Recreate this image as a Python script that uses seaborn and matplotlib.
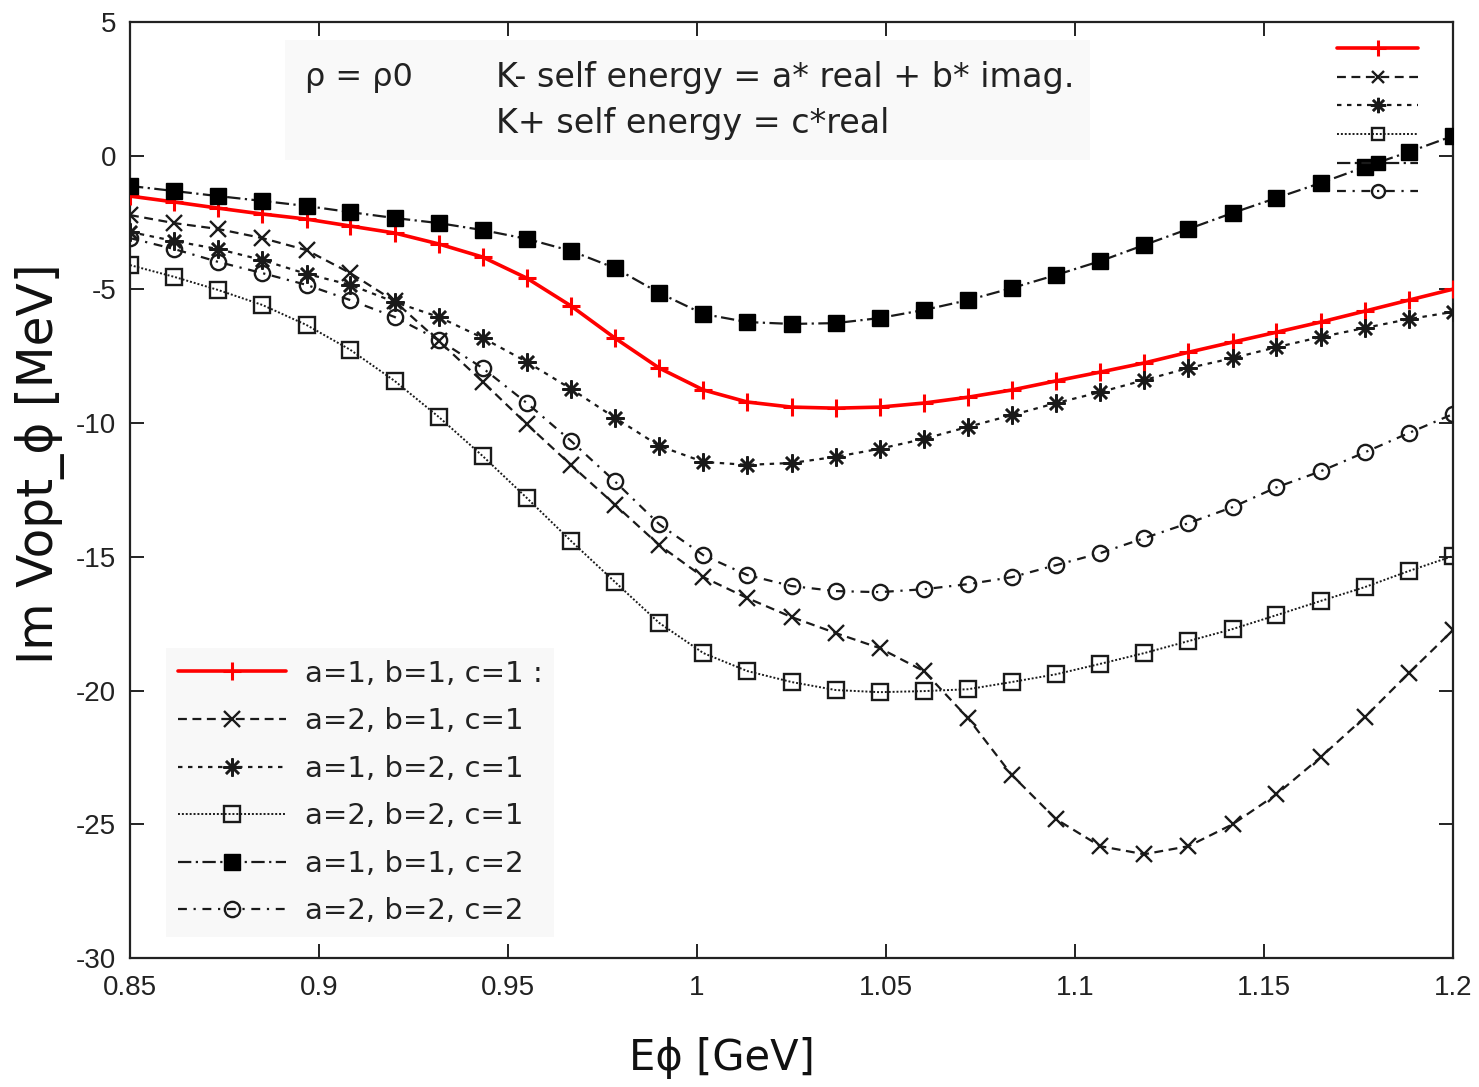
import matplotlib
matplotlib.use("Agg")
import matplotlib.pyplot as plt
from matplotlib.lines import Line2D
from matplotlib.patches import Rectangle
import seaborn as sns

# Kaon self-energy scaling study: imaginary part of the phi optical potential
energy = [0.8500, 0.8617, 0.8733, 0.8850, 0.8967, 0.9083, 0.9200, 0.9317,
          0.9433, 0.9550, 0.9667, 0.9783, 0.9900, 1.0017, 1.0133, 1.0250,
          1.0367, 1.0483, 1.0600, 1.0717, 1.0833, 1.0950, 1.1067, 1.1183,
          1.1300, 1.1417, 1.1533, 1.1650, 1.1767, 1.1883, 1.2000]

im_a1_b1_c1 = [-1.51, -1.73, -1.96, -2.18, -2.37, -2.63, -2.89, -3.30, -3.79, -4.58,
               -5.62, -6.82, -7.94, -8.76, -9.21, -9.40, -9.44, -9.40, -9.25, -9.03,
               -8.76, -8.42, -8.09, -7.75, -7.35, -6.97, -6.60, -6.22, -5.81, -5.40, -4.99]
im_a2_b1_c1 = [-2.22, -2.52, -2.74, -3.08, -3.53, -4.39, -5.44, -6.93, -8.45, -10.04,
               -11.57, -13.05, -14.56, -15.76, -16.54, -17.25, -17.85, -18.41, -19.27, -21.03,
               -23.16, -24.81, -25.82, -26.12, -25.82, -25.00, -23.88, -22.49, -20.99, -19.35, -17.74]
im_a1_b2_c1 = [-2.85, -3.19, -3.49, -3.90, -4.42, -4.83, -5.47, -6.03, -6.81, -7.71,
               -8.72, -9.80, -10.85, -11.45, -11.56, -11.49, -11.26, -10.96, -10.59, -10.14,
               -9.70, -9.25, -8.84, -8.39, -7.94, -7.57, -7.16, -6.78, -6.44, -6.11, -5.84]
im_a2_b2_c1 = [-4.09, -4.53, -5.02, -5.58, -6.33, -7.26, -8.42, -9.77, -11.23, -12.80,
               -14.41, -15.94, -17.47, -18.60, -19.27, -19.68, -19.98, -20.06, -20.02, -19.95,
               -19.68, -19.39, -19.00, -18.60, -18.15, -17.70, -17.18, -16.65, -16.13, -15.53, -14.97]
im_a1_b1_c2 = [-1.13, -1.32, -1.51, -1.69, -1.88, -2.11, -2.33, -2.52, -2.78, -3.11,
               -3.56, -4.20, -5.13, -5.92, -6.22, -6.29, -6.26, -6.07, -5.77, -5.40,
               -4.95, -4.46, -3.94, -3.34, -2.74, -2.14, -1.58, -1.02, -0.42, 0.14, 0.74]
im_a2_b2_c2 = [-3.08, -3.49, -3.97, -4.39, -4.83, -5.40, -6.03, -6.89, -7.94, -9.25,
               -10.67, -12.18, -13.78, -14.94, -15.68, -16.09, -16.28, -16.32, -16.21, -16.02,
               -15.76, -15.31, -14.86, -14.30, -13.74, -13.14, -12.40, -11.80, -11.09, -10.37, -9.66]

series_labels = ["a=1, b=1, c=1 :", "a=2, b=1, c=1", "a=1, b=2, c=1",
                 "a=2, b=2, c=1", "a=1, b=1, c=2", "a=2, b=2, c=2"]

x_ticks = [0.85, 0.9, 0.95, 1.0, 1.05, 1.1, 1.15, 1.2]
x_tick_labels = ["0.85", "0.9", "0.95", "1", "1.05", "1.1", "1.15", "1.2"]
y_ticks = [-30, -25, -20, -15, -10, -5, 0, 5]
y_tick_labels = ["-30", "-25", "-20", "-15", "-10", "-5", "0", "5"]

sns.set_theme(style="ticks")
plt.rcParams["font.family"] = ["DejaVu Sans"]

INK = "#1a1a1a"
line_styles = [
    dict(color="#ff0000", linewidth=2.6, linestyle="-", marker="+", markersize=13,
         markeredgewidth=2.2, markerfacecolor="#ff0000", markeredgecolor="#ff0000"),
    dict(color=INK, linewidth=1.6, linestyle=(0, (4, 2.5)), marker="x", markersize=11,
         markeredgewidth=1.7, markerfacecolor="none", markeredgecolor=INK),
    dict(color=INK, linewidth=1.6, linestyle=(0, (2, 2.5)), marker=(8, 2, 0), markersize=13,
         markeredgewidth=1.8, markerfacecolor="none", markeredgecolor=INK),
    dict(color=INK, linewidth=1.4, linestyle=(0, (1, 1)), marker="s", markersize=11,
         markeredgewidth=1.7, markerfacecolor="none", markeredgecolor=INK),
    dict(color=INK, linewidth=1.6, linestyle=(0, (6, 2, 1, 2)), marker="s", markersize=12,
         markeredgewidth=1.0, markerfacecolor="black", markeredgecolor="black"),
    dict(color=INK, linewidth=1.6, linestyle=(0, (4, 3, 1, 3)), marker="o", markersize=11,
         markeredgewidth=1.7, markerfacecolor="none", markeredgecolor=INK),
]
series_values = [im_a1_b1_c1, im_a2_b1_c1, im_a1_b2_c1, im_a2_b2_c1, im_a1_b1_c2, im_a2_b2_c2]

W, H = 1479, 1087
fig = plt.figure(figsize=(W / 100, H / 100), dpi=100)
fig.patch.set_facecolor("white")
ax = fig.add_axes([130 / W, 1 - 958 / H, 1323 / W, 936 / H])
ax.set_facecolor("white")

draw_order = [3, 1, 5, 2, 4, 0]
for i in draw_order:
    sns.lineplot(x=energy, y=series_values[i], ax=ax, estimator=None, errorbar=None,
                 sort=False, legend=False, zorder=3 + i, **line_styles[i])

ax.set_xlim(0.85, 1.2)
ax.set_ylim(-30, 5)
ax.set_xticks(x_ticks, labels=x_tick_labels, fontfamily="Liberation Sans", fontsize=20, color="#222222")
ax.set_yticks(y_ticks, labels=y_tick_labels, fontfamily="Liberation Sans", fontsize=20, color="#222222")
ax.tick_params(direction="in", length=10, width=1.4, top=True, right=True, color="#222222")
ax.tick_params(axis="x", pad=12)
ax.tick_params(axis="y", pad=10)
for side in ax.spines.values():
    side.set_visible(True)
    side.set_color("#222222")
    side.set_linewidth(1.6)

ax.set_xlabel("Eϕ [GeV]", fontsize=30, color="#111111", labelpad=26)
ax.xaxis.label.set_x(0.4475)
ax.set_ylabel("Im Vopt_ϕ [MeV]", fontsize=35, color="#111111", labelpad=8)
ax.yaxis.label.set_y(0.528)

# Header box with the density and self-energy scaling definitions
ax.add_patch(Rectangle((0.117, 0.853), 0.609, 0.128, transform=ax.transAxes,
                       facecolor="#f9f9f9", edgecolor="none", zorder=1))
ax.text(0.132, 0.941, "ρ = ρ0", transform=ax.transAxes, fontsize=23,
        color="#222222", va="center", ha="left", zorder=2)
ax.text(0.277, 0.941, "K- self energy = a* real + b* imag.", transform=ax.transAxes,
        fontsize=24, color="#222222", va="center", ha="left", zorder=2)
ax.text(0.277, 0.892, "K+ self energy = c*real", transform=ax.transAxes,
        fontsize=24, color="#222222", va="center", ha="left", zorder=2)

# Labelled key, lower left
handles = [Line2D([], [], **st) for st in line_styles]
key = ax.legend(handles, series_labels, loc="upper left",
                bbox_to_anchor=(166 / W, 1 - 648 / H), bbox_transform=fig.transFigure,
                frameon=True, fancybox=False, facecolor="#f8f8f8", edgecolor="none",
                framealpha=1, fontsize=21, labelcolor="#222222", handlelength=3.7,
                handletextpad=0.65, labelspacing=0.67, borderpad=0.4, borderaxespad=0)
key.set_zorder(20)
ax.add_artist(key)

# Unlabelled key, upper right
small_styles = []
for st in line_styles:
    s = dict(st)
    s["markersize"] = st["markersize"] * 0.85
    small_styles.append(s)
small_handles = [Line2D([], [], **st) for st in small_styles]
key2 = ax.legend(small_handles, [" "] * 6, loc="upper right",
                 bbox_to_anchor=(1.0 - 7 / 1323, 1.0 - 4 / 936), bbox_transform=ax.transAxes,
                 frameon=False, fontsize=14, handlelength=4.2, handletextpad=0.4,
                 labelspacing=0.5, borderpad=0.3, borderaxespad=0.4)
key2.set_zorder(20)

fig.savefig("out.png", dpi=100, facecolor="white")
